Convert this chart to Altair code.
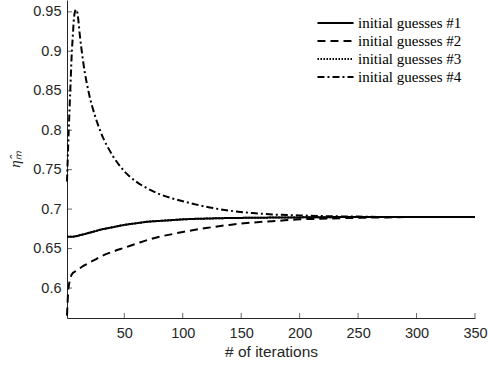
import altair as alt
import pandas as pd

iters = [1, 2, 3, 4, 5, 6, 7, 8, 9, 10, 12, 15, 20, 25, 30, 40, 50, 60, 70, 80, 90, 100,
         120, 140, 160, 180, 200, 225, 250, 275, 300, 325, 350]
guess1 = [0.665, 0.665, 0.665, 0.665, 0.665, 0.665, 0.6652, 0.6655, 0.6658, 0.666, 0.667, 0.668,
          0.670, 0.672, 0.674, 0.677, 0.680, 0.682, 0.684, 0.685, 0.686, 0.687,
          0.688, 0.6887, 0.689, 0.6893, 0.6895, 0.6898, 0.690, 0.690, 0.690, 0.690, 0.690]
guess2 = [0.565, 0.595, 0.607, 0.613, 0.617, 0.619, 0.620, 0.621, 0.622, 0.623, 0.625, 0.628,
          0.632, 0.636, 0.640, 0.646, 0.651, 0.656, 0.661, 0.665, 0.668, 0.671,
          0.676, 0.680, 0.683, 0.685, 0.687, 0.688, 0.689, 0.6895, 0.690, 0.690, 0.690]
guess3 = list(guess1)
guess4 = [0.735, 0.780, 0.820, 0.858, 0.895, 0.920, 0.943, 0.951, 0.953, 0.948, 0.920, 0.885,
          0.845, 0.818, 0.797, 0.768, 0.748, 0.735, 0.726, 0.719, 0.714, 0.710,
          0.703, 0.698, 0.695, 0.693, 0.692, 0.691, 0.6905, 0.690, 0.690, 0.690, 0.690]
series_names = ["initial guesses #1", "initial guesses #2", "initial guesses #3", "initial guesses #4"]
x_ticks = [50, 100, 150, 200, 250, 300, 350]
y_ticks = [0.6, 0.65, 0.7, 0.75, 0.8, 0.85, 0.9, 0.95]

rows = []
for name, vals in zip(series_names, [guess1, guess2, guess3, guess4]):
    for i, v in zip(iters, vals):
        rows.append({"iter": i, "eta": v, "series": name})
df = pd.DataFrame(rows)

xscale = alt.Scale(domain=[1, 350], nice=False, zero=False)
yscale = alt.Scale(domain=[0.562, 0.965], nice=False, zero=False)
axis_color = "#262626"

lines = alt.Chart(df).mark_line(color="black", strokeWidth=2, interpolate="monotone").encode(
    x=alt.X("iter:Q", scale=xscale, title="# of iterations",
            axis=alt.Axis(values=x_ticks, ticks=False, grid=False, domainColor=axis_color,
                          labelColor=axis_color, titleColor=axis_color, labelFont="Liberation Sans",
                          titleFont="Liberation Sans", labelFontSize=14.5, titleFontSize=15.5,
                          titleFontWeight="normal", labelPadding=8, titlePadding=5,
                          labelFlush=False, format="d")),
    y=alt.Y("eta:Q", scale=yscale, title="η̂ₘ",
            axis=alt.Axis(values=y_ticks, ticks=False, grid=False, domainColor=axis_color,
                          labelColor=axis_color, titleColor=axis_color, labelFont="Liberation Sans",
                          titleFont="Liberation Serif", labelFontSize=14.5, titleFontSize=15,
                          titleFontWeight="normal", titleFontStyle="italic", labelPadding=6,
                          titlePadding=10, labelFlush=False, format=".2~f")),
    strokeDash=alt.StrokeDash("series:N",
        scale=alt.Scale(domain=series_names, range=[[1, 0], [8, 5], [1.5, 1.5], [7, 3, 2, 3]]),
        legend=alt.Legend(title=None, orient="none", legendX=249, legendY=15,
                          symbolType="stroke", symbolSize=1300, symbolStrokeWidth=2,
                          symbolStrokeColor="black", labelFont="Liberation Serif",
                          labelFontSize=15, labelColor="black", rowPadding=2, clipHeight=16,
                          labelOffset=3, symbolOffset=0)),
    detail="series:N",
)

xt = pd.DataFrame({"t": x_ticks})
yt = pd.DataFrame({"t": y_ticks})
xticks = alt.Chart(xt).mark_tick(color=axis_color, thickness=1, size=5, orient="vertical",
                                 yOffset=-2.5).encode(
    x=alt.X("t:Q", scale=xscale), y=alt.value(318))
yticks = alt.Chart(yt).mark_tick(color=axis_color, thickness=1, size=5, orient="horizontal",
                                 xOffset=2.5).encode(
    y=alt.Y("t:Q", scale=yscale), x=alt.value(0))

chart = alt.layer(lines, xticks, yticks).properties(
    width=408, height=318,
    autosize=alt.AutoSizeParams(type="none"),
    padding={"left": 67, "top": 0, "right": 13, "bottom": 54},
).configure_view(stroke=None).configure_axis(domainWidth=1)

chart.save("out.html", embed_options={"renderer": "svg", "actions": False})
